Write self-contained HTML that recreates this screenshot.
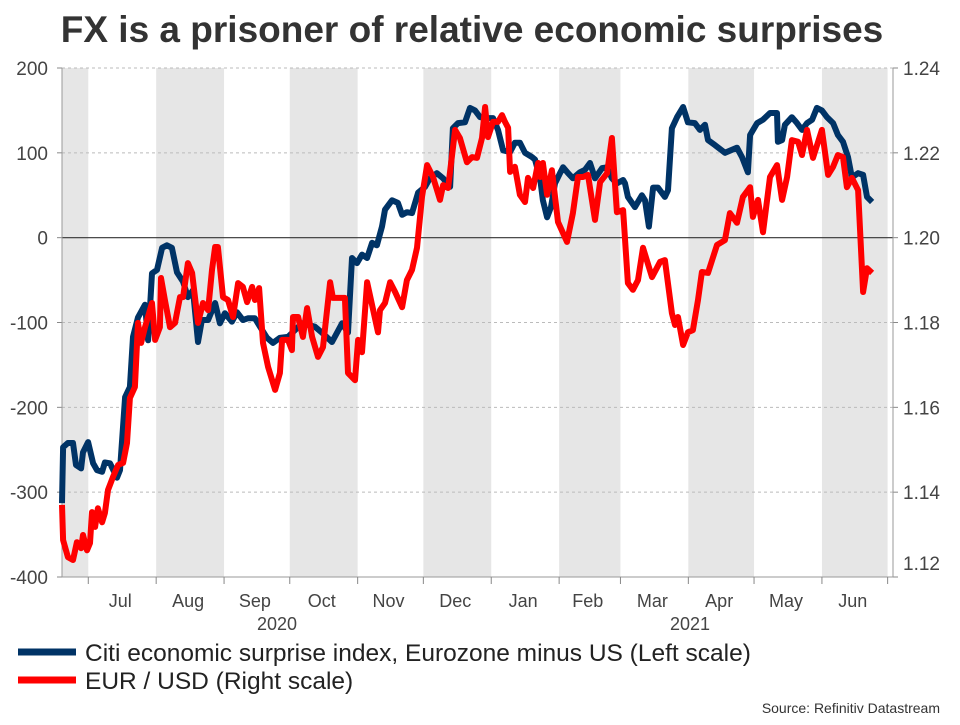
<!DOCTYPE html>
<html><head><meta charset="utf-8"><style>
body{margin:0;background:#fff;font-family:"Liberation Sans",sans-serif}
svg text{font-family:"Liberation Sans",sans-serif}
</style></head><body>
<svg id="c" width="960" height="720" xmlns="http://www.w3.org/2000/svg">
<text x="472" y="42" text-anchor="middle" font-size="37" font-weight="bold" fill="#333">FX is a prisoner of relative economic surprises</text>
<g id="bg"></g><g id="grid"></g><g id="axes"></g><g id="series"></g>
<g>
<line x1="18" y1="652" x2="76" y2="652" stroke="#003366" stroke-width="7"/>
<text x="85" y="661" font-size="24.5" fill="#222">Citi economic surprise index, Eurozone minus US (Left scale)</text>
<line x1="18" y1="680" x2="76" y2="680" stroke="#ff0000" stroke-width="7"/>
<text x="85" y="689" font-size="24.5" fill="#222">EUR / USD (Right scale)</text>
</g>
<text x="940" y="713" text-anchor="end" font-size="14" fill="#333">Source: Refinitiv Datastream</text>
</svg>
<script>
// days since 2020-06-19
const monthNames=["Jul","Aug","Sep","Oct","Nov","Dec","Jan","Feb","Mar","Apr","May","Jun"];
const monthStarts=[12,43,74,104,135,165,196,227,255,286,316,347,377];
const leftTicks=[200,100,0,-100,-200,-300,-400];
const rightTicks=[1.24,1.22,1.20,1.18,1.16,1.14,1.12];
const citiDays=[0,0.5,2.7,5,6.4,8.7,9.6,11.9,14.2,16,18.3,19.6,21.9,25.1,26.5,28.8,31,32.4,34.7,37.9,39.3,41.1,43.4,45.7,47.9,50.2,52.5,55.3,57.5,59.8,62.1,63.9,66.7,69.9,72.1,74.4,77.6,79.9,82.6,84.9,88.1,90.4,93.6,96.3,99.5,103.2,109.6,115.5,118.7,123.3,127.9,130.6,132.4,134.7,137,139.3,141.6,143.8,146.1,147.5,150.7,153.4,155.3,157.5,159.8,162.6,165.8,168,171.2,174,177.2,178.5,180.8,184,186.3,188.6,190.9,194,196.8,199.1,201.4,204.6,206.8,209.1,211.4,214.6,216,218.3,219.6,221.5,223.3,225.1,227.4,228.8,231.1,233.3,236.5,238.8,241.1,243.4,246.6,248.9,251.1,253.4,256.2,257.1,258.4,261.6,264.8,266.2,268,269.9,272.1,275.3,276.7,278.5,280.8,283.6,285.8,289,291.3,293.6,295,298.2,302.7,308.2,310.5,313.2,314.2,317.4,320.1,323.3,326.5,326.9,328.8,330.1,333.3,335.6,337.9,340.2,342.5,344.7,347,349.3,352.1,354.3,356.6,358.9,360.7,363.5,365.8,367.6,369.9];
const citiValues=[-313,-247,-242,-242,-268,-272,-253,-241,-266,-274,-276,-265,-266,-283,-274,-188,-176,-117,-94,-79,-121,-42,-38,-12,-9,-12,-41,-52,-70,-62,-123,-97,-97,-77,-101,-89,-99,-88,-97,-95,-95,-105,-118,-124,-118,-117,-101,-105,-112,-123,-101,-112,-24,-30,-20,-24,-6,-9,13,33,44,41,27,30,29,53,60,70,76,70,60,129,135,136,153,150,142,141,141,127,103,101,112,112,100,95,92,70,44,24,36,64,76,83,76,70,77,80,88,70,82,83,70,64,68,64,48,36,50,44,13,59,59,48,56,129,142,154,136,135,127,133,115,109,100,106,95,77,121,135,139,147,147,113,115,133,142,135,127,135,139,153,150,142,135,121,113,95,71,76,74,48,42];
const eurDays=[0,0.5,2.7,5,6.8,8.7,9.6,11.4,12.8,13.7,15.1,16.4,18.3,19.6,21,23.3,25.6,27.9,29.7,31,33.3,34.7,36.1,37.9,41.1,42.5,44.7,45.2,47,49.3,51.6,53.9,55.3,57.5,59.4,62.1,64.4,66.7,68.5,69.9,71.2,73.5,75.8,78.1,80.4,82.6,84.5,86.8,88.1,90,91.8,94.1,97.3,99.5,100.5,103.2,105,105.5,107.8,110,111.9,114.2,116.9,119.2,122.4,123.7,126.9,129.2,130.6,133.8,135.2,137,139.3,141.6,144.3,145.2,147.5,149.8,152.1,155.3,157.5,159.8,162.1,164.4,166.7,169.4,172.6,174,176.3,179.5,181.7,184.9,187.2,189.5,191.8,193.2,194.5,196.8,199.1,200.9,202.3,203.7,204.6,206.8,209.1,211.4,212.8,215.1,217.4,218.3,219.6,221.5,223.7,226.5,230.6,233.3,235.6,237.9,240.2,243.4,245.7,248.9,251.1,253.4,256.2,258.4,260.7,263,265.3,269.4,273.1,275.3,278.5,279.9,281.3,283.6,285.8,288.1,290.4,292.2,295,299.1,302.7,305,308.2,310.9,314.2,315.5,317.8,320.1,323.3,326.5,328.8,331.1,333.3,336.1,337.9,340.2,342.9,347,349.8,352.1,354.3,356.6,358.4,360.7,363.5,365.8,367.6,369.9];
const eurValues=[1.1370,1.1287,1.1247,1.1240,1.1282,1.1268,1.1299,1.1263,1.1280,1.1353,1.1318,1.1362,1.1329,1.1351,1.1405,1.1436,1.1464,1.1469,1.1516,1.1622,1.1648,1.1799,1.1752,1.1789,1.1846,1.1759,1.1789,1.1905,1.1853,1.1789,1.1799,1.1860,1.1860,1.1940,1.1917,1.1799,1.1846,1.1829,1.1924,1.1978,1.1978,1.1860,1.1853,1.1813,1.1893,1.1884,1.1848,1.1884,1.1853,1.1881,1.1752,1.1695,1.1641,1.1681,1.1759,1.1759,1.1735,1.1813,1.1813,1.1766,1.1834,1.1766,1.1719,1.1742,1.1895,1.1858,1.1858,1.1858,1.1681,1.1664,1.1759,1.1730,1.1895,1.1841,1.1777,1.1829,1.1846,1.1895,1.1872,1.1836,1.1900,1.1924,1.1976,1.2096,1.2171,1.2143,1.2089,1.2124,1.2117,1.2254,1.2235,1.2178,1.2190,1.2188,1.2235,1.2308,1.2237,1.2273,1.2273,1.2289,1.2273,1.2259,1.2155,1.2167,1.2101,1.2084,1.2141,1.2117,1.2176,1.2143,1.2176,1.2101,1.2159,1.2037,1.1990,1.2058,1.2143,1.2143,1.2148,1.2042,1.2131,1.2152,1.2235,1.2060,1.2065,1.1893,1.1877,1.1900,1.1976,1.1907,1.1943,1.1947,1.1822,1.1794,1.1813,1.1747,1.1777,1.1782,1.1853,1.1919,1.1917,1.1983,1.1994,1.2058,1.2035,1.2096,1.2119,1.2049,1.2089,1.2013,1.2143,1.2171,1.2089,1.2143,1.2230,1.2226,1.2195,1.2254,1.2188,1.2254,1.2148,1.2167,1.2195,1.2190,1.2119,1.2141,1.2112,1.1872,1.1928,1.1917];
const X0=62,X1=893,Y0=68,Y1=577;
const xS=d=>X0+d*2.19;
const yL=v=>Y0+(200-v)*(Y1-Y0)/600;
const yR=v=>Y0+(1.24-v)*(Y1-Y0)/0.12;
const NS="http://www.w3.org/2000/svg";
function mk(p,t,a){const e=document.createElementNS(NS,t);for(const k in a)e.setAttribute(k,a[k]);p.appendChild(e);return e;}
const bg=document.getElementById('bg'),grid=document.getElementById('grid'),axes=document.getElementById('axes'),ser=document.getElementById('series');
const shadeIdx=[-1,1,3,5,7,9,11];
shadeIdx.forEach(i=>{const a=i<0?X0:xS(monthStarts[i]);const b=i<0?xS(monthStarts[0]):Math.min(X1,xS(monthStarts[i+1]));
const r=mk(bg,'rect',{x:a,y:Y0,width:b-a,height:Y1-Y0,fill:'#e6e6e6'});

});
leftTicks.forEach(v=>{const y=yL(v);
if(v!==0&&v!==-400){const l=mk(grid,'line',{x1:X0,x2:X1,y1:y,y2:y,stroke:'#bbb','stroke-dasharray':'3,3','stroke-width':1});

}
const t=mk(axes,'text',{x:48,y:y+7,'text-anchor':'end','font-size':19,fill:'#444'});t.textContent=v;


mk(axes,'line',{x1:X0-5,x2:X0,y1:y,y2:y,stroke:'#888'});});
rightTicks.forEach(v=>{const y=yR(v);
const t=mk(axes,'text',{x:903,y:Math.min(y+7,570),'font-size':19,fill:'#444'});t.textContent=v.toFixed(2);


mk(axes,'line',{x1:X1,x2:X1+5,y1:y,y2:y,stroke:'#888'});});
const z=mk(axes,'line',{x1:X0,x2:X1,y1:yL(0),y2:yL(0),stroke:'#333','stroke-width':1.2});


mk(axes,'line',{x1:X0,x2:X0,y1:Y0,y2:Y1,stroke:'#999'});
mk(axes,'line',{x1:X1,x2:X1,y1:Y0,y2:Y1,stroke:'#999'});
mk(axes,'line',{x1:X0,x2:X1,y1:Y1,y2:Y1,stroke:'#999'});
monthStarts.forEach((d,i)=>{const x=xS(d);if(x<=X1+1)mk(axes,'line',{x1:x,x2:x,y1:Y1,y2:Y1+7,stroke:'#888'});
if(i<monthNames.length){const t=mk(axes,'text',{x:(x+Math.min(X1,xS(monthStarts[i+1])))/2-2,y:607,'text-anchor':'middle','font-size':18,fill:'#444'});t.textContent=monthNames[i];

}});
[["2020",277],["2021",690]].forEach(([s,x])=>{const t=mk(axes,'text',{x:x,y:630,'text-anchor':'middle','font-size':18,fill:'#444'});t.textContent=s;

});
function line(ds,vs,ys,col,name){const p=mk(ser,'polyline',{points:ds.map((d,i)=>xS(d).toFixed(1)+','+ys(vs[i]).toFixed(1)).join(' '),fill:'none',stroke:col,'stroke-width':6,'stroke-linejoin':'round'});

}
line(citiDays,citiValues,yL,'#003366','citi-surprise-line');
line(eurDays,eurValues,yR,'#ff0000','eurusd-line');
</script>
</body></html>
